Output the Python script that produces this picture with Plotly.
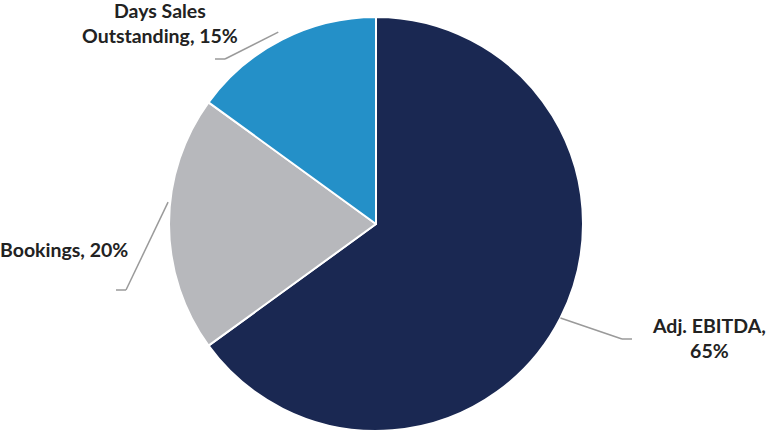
import math
import plotly.graph_objects as go

W, H = 767, 434

# Data
categories = ["Adj. EBITDA", "Bookings", "Days Sales Outstanding"]
values = [65, 20, 15]
label_texts = ["Adj. EBITDA,<br>65%", "Bookings, 20%", "Days Sales<br>Outstanding, 15%"]
colors = ["#1a2852", "#b7b8bc", "#2490c8"]

# Layout (pixels)
cx, cy, r = 376, 224, 207
# label anchor positions and elbow/end points for leader lines (pixel style positions)
label_pos = [(709, 338), (64, 250), (160, 23)]
elbows = [(622, 339, 632), (126, 290, 116), (225, 59, 215)]
start_r = [1.0, 1.01, 1.04]
start_shift = [0, 6, 0]  # small angular nudge in degrees

def px2paper(x, y):
    return x / W, 1 - y / H

fig = go.Figure()
fig.add_trace(go.Pie(
    labels=categories, values=values, sort=False, direction="clockwise",
    rotation=0, textinfo="none", hoverinfo="label+percent",
    marker=dict(colors=colors, line=dict(color="white", width=2)),
    domain=dict(x=[(cx - r) / W, (cx + r) / W], y=[(H - cy - r) / H, (H - cy + r) / H]),
    showlegend=False,
))

total = sum(values)
cum = 0
shapes, annotations = [], []
for i, v in enumerate(values):
    mid = (cum + v / 2) / total * 360 + start_shift[i]
    cum += v
    th = math.radians(mid)
    sx = cx + r * start_r[i] * math.sin(th)
    sy = cy - r * start_r[i] * math.cos(th)
    ex, ey, hx = elbows[i]
    for (x0, y0, x1, y1) in [(sx, sy, ex, ey), (ex, ey, hx, ey)]:
        a0 = px2paper(x0, y0)
        a1 = px2paper(x1, y1)
        shapes.append(dict(type="line", xref="paper", yref="paper",
                           x0=a0[0], y0=a0[1], x1=a1[0], y1=a1[1],
                           line=dict(color="#9a9a9a", width=1.5)))
    lx, ly = label_pos[i]
    p = px2paper(lx, ly)
    annotations.append(dict(x=p[0], y=p[1], xref="paper", yref="paper",
                            text="<b>" + label_texts[i] + "</b>", showarrow=False,
                            align="center", xanchor="center", yanchor="middle",
                            font=dict(family="Lato", size=19.5, color="#222222")))

fig.update_layout(width=W, height=H, margin=dict(l=0, r=0, t=0, b=0),
                  paper_bgcolor="white", plot_bgcolor="white",
                  shapes=shapes, annotations=annotations)
fig.write_html("out.html", config={"displayModeBar": False},
               post_script="document.body.style.margin='0';document.body.style.overflow='hidden';")
